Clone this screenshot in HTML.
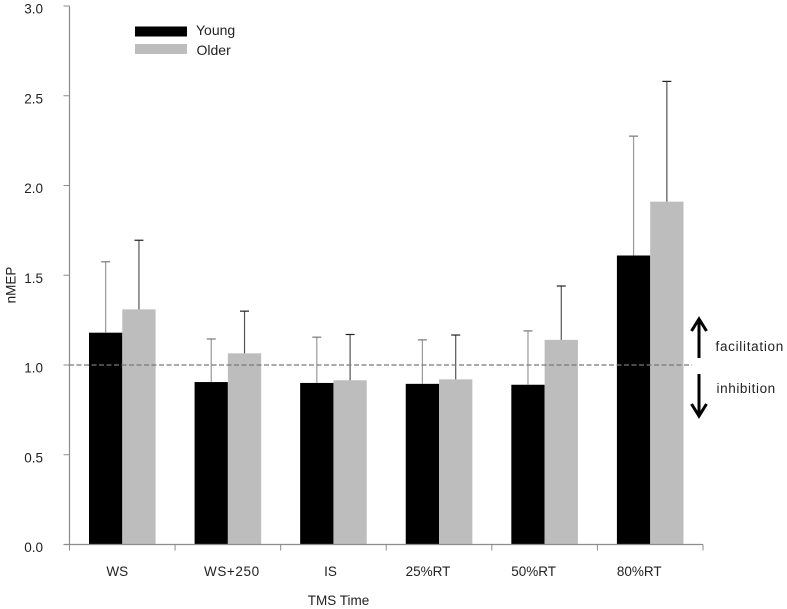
<!DOCTYPE html>
<html>
<head>
<meta charset="utf-8">
<style>
html,body{margin:0;padding:0;background:#fff;}
svg{display:block;}
text{font-family:"Liberation Sans",sans-serif;fill:#222;font-size:13.5px;}
</style>
</head>
<body>
<svg id="chart" width="787" height="609" viewBox="0 0 787 609" xmlns="http://www.w3.org/2000/svg">
<g id="bars"></g>
<g id="errors"></g>
<g id="axes"></g>
<line id="refline" x1="69" x2="692" stroke="#777" stroke-width="1.3" stroke-dasharray="5 2.5"></line>
<g>
<rect x="135" y="26.500" width="52" height="10" fill="#000"></rect>
<text x="196" y="35" style="font-size:14px">Young</text>
<rect x="135" y="44" width="52" height="10" fill="#bdbdbd"></rect>
<text x="196.500" y="55" style="font-size:14px">Older</text>
</g>
<text transform="translate(15.500 285) rotate(-90)" text-anchor="middle">nMEP</text>
<text x="338.500" y="605" text-anchor="middle">TMS Time</text>
<g>
<path d="M699 358V319M691.500 331L699 319L706.500 331" fill="none" stroke="#000" stroke-width="3"></path>
<text x="715.500" y="351" style="letter-spacing:.7px">facilitation</text>
</g>
<g>
<path d="M699 374V416M691.500 404L699 416L706.500 404" fill="none" stroke="#000" stroke-width="3"></path>
<text x="716.500" y="393" style="letter-spacing:.6px">inhibition</text>
</g>
</svg>
<script>
const categories = ["WS", "WS+250", "IS", "25%RT", "50%RT", "80%RT"];
const youngValues = [1.18, 0.905, 0.90, 0.895, 0.89, 1.61];
const olderValues = [1.31, 1.065, 0.915, 0.92, 1.14, 1.91];
const youngErrorTops = [1.575, 1.145, 1.155, 1.14, 1.19, 2.275];
const olderErrorTops = [1.695, 1.30, 1.17, 1.167, 1.44, 2.58];
const yTicks = ["0.0", "0.5", "1.0", "1.5", "2.0", "2.5", "3.0"];
const referenceValue = 1.0;

const NS = "http://www.w3.org/2000/svg";
const plotLeft = 69.5, plotRight = 703, plotBottom = 544.5, plotTop = 6, yMax = 3;
const barWidth = 33.3;
const yScale = v => plotBottom - (v / yMax) * (plotBottom - plotTop);
const bandWidth = (plotRight - plotLeft) / categories.length;
const xCenter = i => plotLeft + bandWidth * (i + 0.5);

function labelShift(i) {
  if (i === 0) return -5;
  if (i === 1) return 4;
  if (i === 2) return -3;
  return -11;
}

function make(tag, attrs, parent) {
  const el = document.createElementNS(NS, tag);
  for (const k in attrs) el.setAttribute(k, attrs[k]);
  parent.appendChild(el);
  return el;
}

const barsG = document.getElementById("bars");
const errG = document.getElementById("errors");
const axesG = document.getElementById("axes");

function drawError(x, top, base, color, capColor, slug) {
  const stem = make("line", {x1: x, x2: x, y1: yScale(top), y2: yScale(base), stroke: color, "stroke-width": 1.2}, errG);
  
  
  const cap = make("line", {x1: x - 4.5, x2: x + 4.5, y1: yScale(top), y2: yScale(top), stroke: capColor, "stroke-width": 1.2}, errG);
  
  
}

categories.forEach((c, i) => {
  const cx = xCenter(i);
  const slug = c.toLowerCase().replace(/[^a-z0-9]+/g, "-");
  const y1 = make("rect", {x: cx - barWidth, y: yScale(youngValues[i]), width: barWidth, height: plotBottom - yScale(youngValues[i]), fill: "#000"}, barsG);
  
  
  const y2 = make("rect", {x: cx, y: yScale(olderValues[i]), width: barWidth, height: plotBottom - yScale(olderValues[i]), fill: "#bdbdbd"}, barsG);
  
  
  drawError(cx - barWidth / 2, youngErrorTops[i], youngValues[i], "#999", "#777", 'young-' + slug);
  drawError(cx + barWidth / 2, olderErrorTops[i], olderValues[i], "#555", "#222", 'older-' + slug);
  const lab = make("text", {x: cx + labelShift(i), y: 576, "text-anchor": "middle", style: i === 1 ? "letter-spacing:.6px" : ""}, axesG);
  lab.textContent = c;
  
  
});

const yAxis = make("line", {x1: plotLeft, x2: plotLeft, y1: plotTop, y2: plotBottom, stroke: "#8c8c8c", "stroke-width": 1.2}, axesG);


const xAxis = make("line", {x1: plotLeft - 6, x2: plotRight, y1: plotBottom, y2: plotBottom, stroke: "#8c8c8c", "stroke-width": 1.2}, axesG);



yTicks.forEach(t => {
  const y = yScale(parseFloat(t));
  const tick = make("line", {x1: plotLeft - 6, x2: plotLeft, y1: y, y2: y, stroke: "#8c8c8c", "stroke-width": 1}, axesG);
  
  
  const lab = make("text", {x: 43, y: y + 7.5, "text-anchor": "end"}, axesG);
  lab.textContent = t;
  
  
});

for (let i = 0; i <= categories.length; i++) {
  const x = plotLeft + bandWidth * i;
  const tick = make("line", {x1: x, x2: x, y1: plotBottom, y2: plotBottom + 6, stroke: "#8c8c8c", "stroke-width": 1}, axesG);
  
  
}

const ref = document.getElementById("refline");
ref.setAttribute("y1", yScale(referenceValue));
ref.setAttribute("y2", yScale(referenceValue));
</script>
</body>
</html>
